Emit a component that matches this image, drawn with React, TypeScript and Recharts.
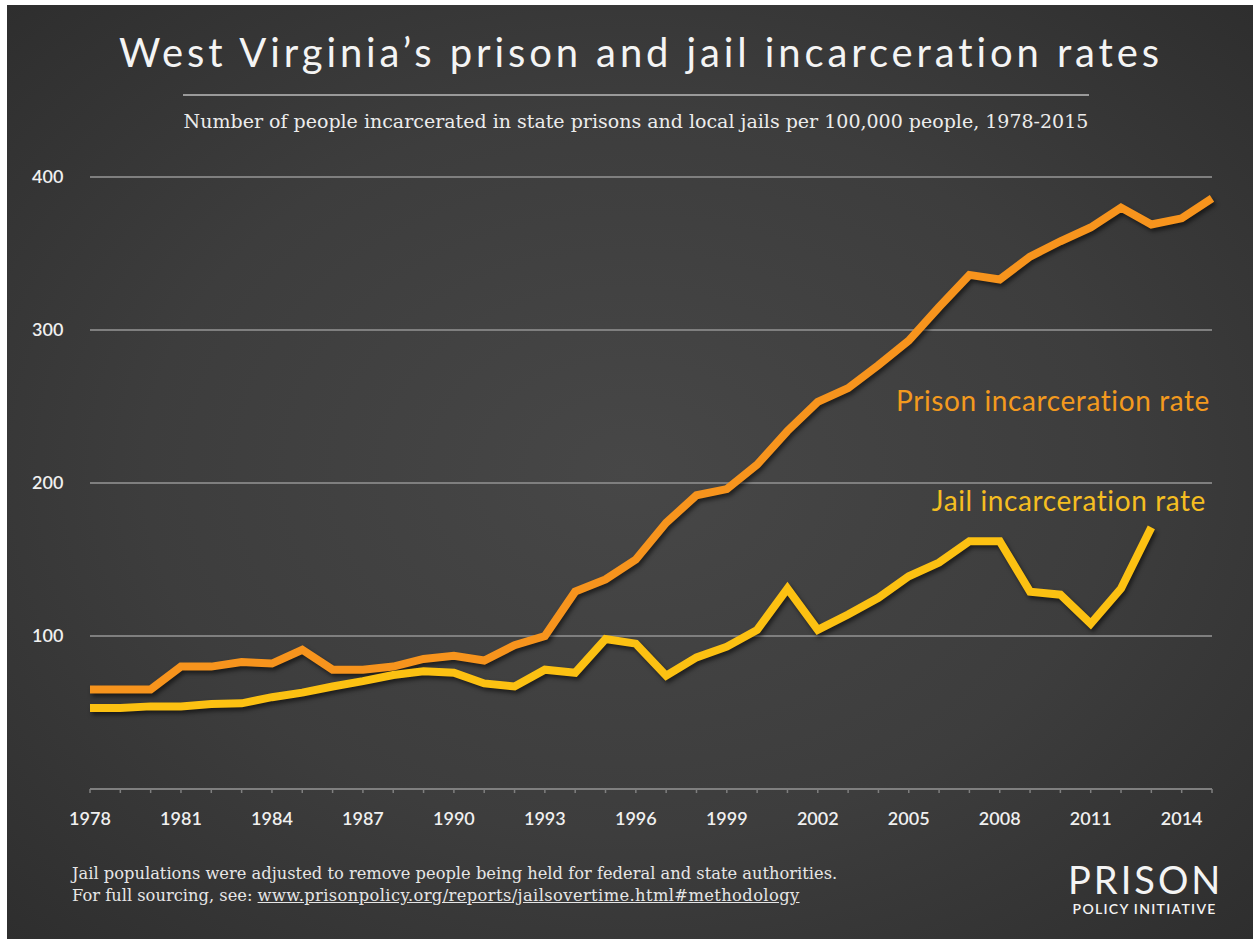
import { LineChart, Line, XAxis, YAxis, CartesianGrid } from "recharts";

// West Virginia incarceration rates per 100,000 people, 1978-2015
const years = [
  1978, 1979, 1980, 1981, 1982, 1983, 1984, 1985, 1986, 1987, 1988, 1989, 1990,
  1991, 1992, 1993, 1994, 1995, 1996, 1997, 1998, 1999, 2000, 2001, 2002, 2003,
  2004, 2005, 2006, 2007, 2008, 2009, 2010, 2011, 2012, 2013, 2014, 2015,
];

const prisonRate = [
  65, 65, 65, 80, 80, 83, 82, 91, 78, 78, 80, 85, 87, 84, 94, 100, 129, 137, 150,
  174, 192, 196, 212, 234, 253, 262, 277, 293, 315, 336, 333, 348, 358, 367, 380,
  369, 373, 386,
];

const jailRate: (number | null)[] = [
  53, 53, 54, 54, 55.5, 56, 60, 63, 67, 70.5, 74.5, 77, 76, 69, 67, 78, 76, 98, 95,
  74, 86, 93, 104, 131, 104, 114, 125, 139, 148, 162, 162, 129, 127, 108, 131, 171,
  null, null,
];

const yTicks = [0, 100, 200, 300, 400];
const labeledYears = [1978, 1981, 1984, 1987, 1990, 1993, 1996, 1999, 2002, 2005, 2008, 2011, 2014];

const data = years.map((year, i) => ({
  year,
  prison: prisonRate[i],
  jail: jailRate[i],
}));

const PRISON = "#f7941d";
const JAIL = "#fcc112";
const GRID = "#7f7f7f";
const SANS = "Lato, 'Open Sans', sans-serif";
const SERIF = "'DejaVu Serif', 'Liberation Serif', serif";

const YTick = ({ y, payload }: any) => {
  if (payload.value === 0) return null;
  return (
    <text x={32} y={y} dy={6} textAnchor="start" fill="#f0f0f0" fontSize={18} fontWeight={600} fontFamily={SANS}>
      {payload.value}
    </text>
  );
};

const XTick = ({ x, y, payload }: any) => {
  if (!labeledYears.includes(payload.value)) return null;
  return (
    <text x={x} y={y} dy={30} textAnchor="middle" fill="#f0f0f0" fontSize={18} fontWeight={600} fontFamily={SANS}>
      {payload.value}
    </text>
  );
};

export default function App() {
  return (
    <div style={{ position: "absolute", left: 0, top: 0, width: 1253, height: 939, background: "#fff", overflow: "hidden" }}>
      <style>{`.recharts-line-curve { filter: drop-shadow(2px 3px 2px rgba(0,0,0,0.55)); }`}</style>
      <div
        style={{
          position: "absolute",
          left: 7,
          top: 5,
          width: 1246,
          height: 934,
          background: "radial-gradient(ellipse at 50% 50%, #474747 0%, #3d3d3d 55%, #2e2e2e 100%)",
        }}
      />

      <div
        style={{
          position: "absolute",
          left: 641,
          top: 52,
          transform: "translate(-50%, -50%)",
          whiteSpace: "nowrap",
          color: "#f4f4f4",
          fontFamily: SANS,
          fontSize: 40,
          letterSpacing: 3.9,
        }}
      >
        West Virginia’s prison and jail incarceration rates
      </div>
      <div style={{ position: "absolute", left: 183, top: 94, width: 906, height: 2, background: "#9a9a9a" }} />
      <div
        style={{
          position: "absolute",
          left: 636,
          top: 121,
          transform: "translate(-50%, -50%)",
          whiteSpace: "nowrap",
          color: "#ececec",
          fontFamily: SERIF,
          fontSize: 19,
        }}
      >
        Number of people incarcerated in state prisons and local jails per 100,000 people, 1978-2015
      </div>

      <div style={{ position: "absolute", left: 0, top: 0 }}>
        <LineChart width={1253} height={939} data={data} margin={{ top: 177, right: 41, bottom: 90, left: 32 }}>
          <CartesianGrid horizontal vertical={false} stroke={GRID} strokeWidth={2} />
          <XAxis
            dataKey="year"
            type="number"
            domain={[1978, 2015]}
            ticks={years}
            interval={0}
            height={60}
            tickSize={4}
            tickMargin={2}
            tickLine={{ stroke: GRID, strokeWidth: 1.5 }}
            axisLine={{ stroke: GRID, strokeWidth: 2 }}
            tick={<XTick />}
          />
          <YAxis domain={[0, 400]} ticks={yTicks} width={58} axisLine={false} tickLine={false} tick={<YTick />} />
          <Line dataKey="prison" stroke={PRISON} strokeWidth={8} dot={false} isAnimationActive={false} />
          <Line dataKey="jail" stroke={JAIL} strokeWidth={8} dot={false} isAnimationActive={false} connectNulls={false} />
        </LineChart>
      </div>

      <div
        style={{
          position: "absolute",
          right: 1253 - 1210,
          top: 400,
          transform: "translateY(-50%)",
          whiteSpace: "nowrap",
          color: "#f39a1e",
          fontFamily: SANS,
          fontSize: 28,
          letterSpacing: 0.6,
        }}
      >
        Prison incarceration rate
      </div>
      <div
        style={{
          position: "absolute",
          right: 1253 - 1206,
          top: 500,
          transform: "translateY(-50%)",
          whiteSpace: "nowrap",
          color: "#f5be21",
          fontFamily: SANS,
          fontSize: 28,
          letterSpacing: 0.6,
        }}
      >
        Jail incarceration rate
      </div>

      <div
        style={{
          position: "absolute",
          left: 72,
          top: 863,
          whiteSpace: "nowrap",
          color: "#e6e6e6",
          fontFamily: SERIF,
          fontSize: 16.3,
          lineHeight: "22px",
        }}
      >
        <div>Jail populations were adjusted to remove people being held for federal and state authorities.</div>
        <div>
          For full sourcing, see:{" "}
          <span style={{ textDecoration: "underline", letterSpacing: 0.4 }}>www.prisonpolicy.org/reports/jailsovertime.html#methodology</span>
        </div>
      </div>

      <div style={{ position: "absolute", left: 1068, top: 862, width: 152, color: "#f4f4f4", fontFamily: SANS, textAlign: "center" }}>
        <div style={{ fontSize: 38, lineHeight: "34px", letterSpacing: 3, marginRight: -3 }}>PRISON</div>
        <div style={{ fontSize: 14, lineHeight: "16px", letterSpacing: 1.3, fontWeight: 600, marginTop: 5, marginRight: -1.3 }}>
          POLICY INITIATIVE
        </div>
      </div>
    </div>
  );
}
